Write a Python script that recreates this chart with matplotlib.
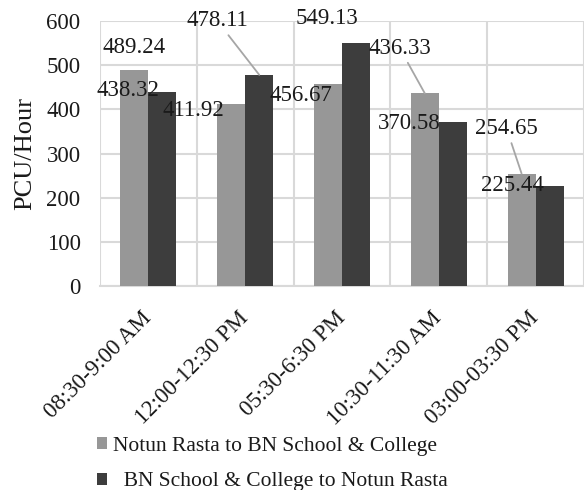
import matplotlib.pyplot as plt
import matplotlib.transforms as mtransforms
import numpy as np

categories = ["08:30-9:00 AM", "12:00-12:30 PM", "05:30-6:30 PM", "10:30-11:30 AM", "03:00-03:30 PM"]
notun_to_bn = [489.24, 411.92, 456.67, 436.33, 254.65]
bn_to_notun = [438.32, 478.11, 549.13, 370.58, 225.44]
series_names = ["Notun Rasta to BN School & College", "  BN School & College to Notun Rasta"]

# label offsets (pixels) from bar top, and whether a leader line is drawn
offs_gray = [(0, 22), (-38, -6), (-27, -11), (-25, 45), (-15, 45)]
offs_dark = [(-34, 2), (-42, 54), (-29, 25), (-44, -1), (-37, 1)]
lead_gray = [False, False, False, True, True]
lead_dark = [False, True, False, False, False]

plt.rcParams["font.family"] = ["Liberation Serif", "DejaVu Serif"]
txt = "#1a1a1a"

fig = plt.figure(figsize=(5.84, 4.90), dpi=100)
ax = fig.add_axes([100 / 584, 1 - 286 / 490, 484 / 584, 265 / 490])

x = np.arange(len(categories))
w = 0.29
c_gray = "#979797"
c_dark = "#3d3d3d"
b1 = ax.bar(x - w / 2, notun_to_bn, w, color=c_gray, label=series_names[0], zorder=3)
b2 = ax.bar(x + w / 2, bn_to_notun, w, color=c_dark, label=series_names[1], zorder=3)

ax.set_xlim(-0.5, len(categories) - 0.5)
ax.set_ylim(0, 600)
ax.set_yticks(range(0, 601, 100))
ax.set_xticks(np.arange(len(categories) + 1) - 0.5, minor=True)
ax.set_xticks(x)
ax.set_xticklabels(categories, rotation=45, ha="right", va="center",
                   rotation_mode="anchor", fontsize=16.5, color=txt)
shift = mtransforms.ScaledTranslation(-2 / 100, 0, fig.dpi_scale_trans)
for lab in ax.get_xticklabels():
    lab.set_transform(lab.get_transform() + shift)
ax.tick_params(axis="x", which="both", length=0, pad=21)
ax.tick_params(axis="y", length=0, pad=14, labelsize=16.5, labelcolor=txt)

ax.grid(axis="y", color="#d9d9d9", linewidth=1.5, zorder=0)
ax.grid(axis="x", which="minor", color="#d9d9d9", linewidth=1.5, zorder=0)
for s in ["top", "right", "left"]:
    ax.spines[s].set_visible(False)
ax.spines["bottom"].set_color("#d9d9d9")
ax.spines["bottom"].set_linewidth(1.5)

ax.set_ylabel("PCU/Hour", fontsize=19, color=txt, labelpad=7)

def label_bars(xs, vals, offs, leads):
    for xi, v, (dx, dy), ld in zip(xs, vals, offs, leads):
        kw = {}
        if ld:
            kw["arrowprops"] = dict(arrowstyle="-", color="#a6a6a6", lw=1.3,
                                    shrinkA=1, shrinkB=0)
        ax.annotate(f"{v:.2f}", xy=(xi, v), xytext=(dx, dy), textcoords="offset pixels",
                    ha="center", va="center", fontsize=16.5, color=txt, zorder=5,
                    annotation_clip=False, **kw)

label_bars(x - w / 2, notun_to_bn, offs_gray, lead_gray)
label_bars(x + w / 2, bn_to_notun, offs_dark, lead_dark)

fig.legend(handles=[b1, b2], loc="upper left", bbox_to_anchor=(88 / 584, 1 - 428 / 490),
           frameon=False, fontsize=15.5, handlelength=0.5, handleheight=0.5,
           handletextpad=0.25, labelspacing=0.78, borderaxespad=0, labelcolor=txt)

fig.savefig("out.png", dpi=100)
